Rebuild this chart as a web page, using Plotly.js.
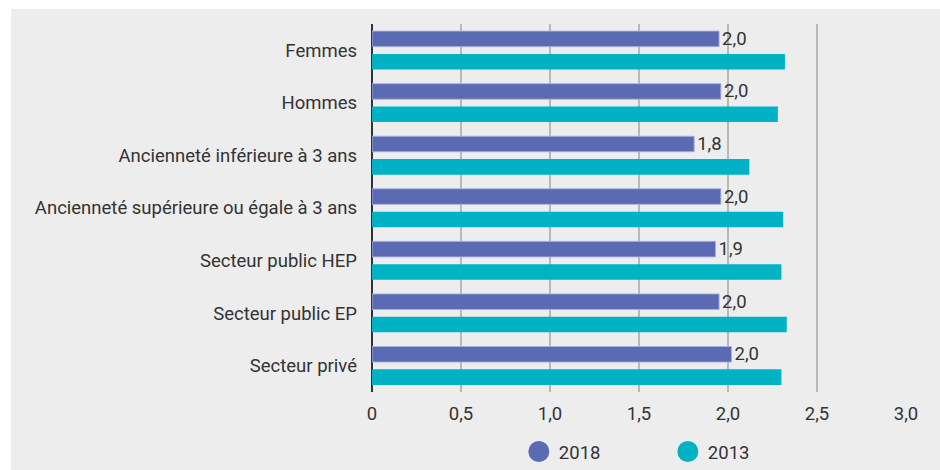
<!DOCTYPE html>
<html>
<head>
<meta charset="utf-8">
<script src="https://cdn.plot.ly/plotly-3.0.1.min.js"></script>
<style>
  html, body { margin: 0; padding: 0; background: #ffffff; }
  #chart { position: absolute; left: 11px; top: 9px; width: 929px; height: 461px; }
</style>
</head>
<body>
<div id="chart"></div>
<script>
const categories = [
  "Femmes",
  "Hommes",
  "Ancienneté inférieure à 3 ans",
  "Ancienneté supérieure ou égale à 3 ans",
  "Secteur public HEP",
  "Secteur public EP",
  "Secteur privé"
];
const values2018 = [1.95, 1.96, 1.81, 1.96, 1.93, 1.95, 2.02];
const values2013 = [2.32, 2.28, 2.12, 2.31, 2.30, 2.33, 2.30];
const xTickVals = [0, 0.5, 1.0, 1.5, 2.0, 2.5, 3.0];
const xTickText = ["0", "0,5", "1,0", "1,5", "2,0", "2,5", "3,0"];
const seriesNames = ["2018", "2013"];
const colors = ["#5a6ab3", "#00b2c4"];

const fmt = v => (Math.round(v * 10) / 10).toFixed(1).replace(".", ",");
const font = "Roboto, 'Noto Sans', sans-serif";
const fs = 18.5;

const traces = [
  {
    type: "bar", orientation: "h", name: seriesNames[0],
    y: categories, x: values2018,
    marker: { color: colors[0], line: { color: "rgba(170,178,220,0.9)", width: 1 } },
    text: values2018.map(fmt), textposition: "outside", cliponaxis: false,
    constraintext: "none",
    textfont: { family: font, size: fs, color: "#333333" },
    hoverinfo: "x+y", showlegend: false
  },
  {
    type: "bar", orientation: "h", name: seriesNames[1],
    y: categories, x: values2013,
    marker: { color: colors[1] },
    hoverinfo: "x+y", showlegend: false
  },
  {
    type: "scatter", mode: "markers", name: seriesNames[0],
    x: [null], y: [null],
    marker: { symbol: "circle", size: 16, color: colors[0], line: { color: colors[0], width: 5 } },
    showlegend: true
  },
  {
    type: "scatter", mode: "markers", name: seriesNames[1],
    x: [null], y: [null],
    marker: { symbol: "circle", size: 16, color: colors[1], line: { color: colors[1], width: 5 } },
    showlegend: true
  }
];

const layout = {
  width: 929, height: 461,
  paper_bgcolor: "#ededed", plot_bgcolor: "#ededed",
  margin: { l: 361, r: 34, t: 15, b: 78, pad: 0, autoexpand: false },
  barmode: "group", bargap: 0.13, bargroupgap: 0.32,
  font: { family: font, size: fs, color: "#333333" },
  xaxis: {
    range: [0, 3], tickvals: xTickVals, ticktext: xTickText,
    showgrid: true, gridcolor: "#b8b8b8", gridwidth: 1.5,
    zeroline: true, zerolinecolor: "#333333", zerolinewidth: 1.5,
    showline: false, ticks: "", ticklabelstandoff: 8,
    tickfont: { family: font, size: fs, color: "#333333" },
    fixedrange: true
  },
  yaxis: {
    type: "category", autorange: "reversed",
    showgrid: false, zeroline: false, showline: false, ticks: "",
    ticklabelstandoff: 14,
    tickfont: { family: font, size: fs, color: "#333333" },
    fixedrange: true
  },
  showlegend: true,
  legend: {
    orientation: "h", x: 0.554, xanchor: "center",
    yref: "container", y: 0.039, yanchor: "middle",
    entrywidth: 104, entrywidthmode: "pixels", itemsizing: "trace",
    font: { family: font, size: fs, color: "#333333" },
    bgcolor: "rgba(0,0,0,0)"
  }
};

Plotly.newPlot("chart", traces, layout, { displayModeBar: false, staticPlot: true });
</script>
</body>
</html>
